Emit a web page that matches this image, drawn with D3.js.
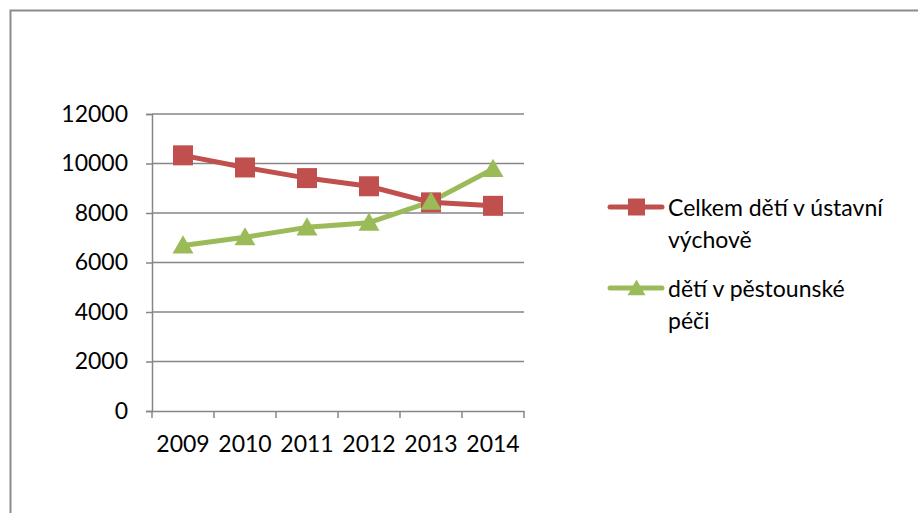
<!DOCTYPE html>
<html>
<head>
<meta charset="utf-8">
<script src="https://cdn.jsdelivr.net/npm/d3@7"></script>
<style>
body { margin:0; background:#fff; }
svg text { font-family: Lato, "Noto Sans", sans-serif; fill:#000; }
</style>
</head>
<body>
<div id="plot"></div>
<script>
// data
var years = ['2009','2010','2011','2012','2013','2014'];
var ustavni = [10330, 9840, 9410, 9080, 8430, 8290];
var pestounska = [6690, 7020, 7420, 7610, 8460, 9780];
var yTicks = [0, 2000, 4000, 6000, 8000, 10000, 12000];
var seriesNames = ['Celkem dětí v ústavní|výchově', 'dětí v pěstounské|péči'];
var seriesColors = ['#C0504D', '#9BBB59'];

var W = 918, H = 513;
var fs = '23px';
var svg = d3.select('#plot').append('svg')
	.attr('width', W)
	.attr('height', H);

svg.append('rect').attr('width', W).attr('height', H).attr('fill', '#fff');

// outer frame (runs off the right / bottom edge)
svg.append('path')
	.attr('d', 'M10.5,' + H + 'V10.5H' + W)
	.attr('fill', 'none')
	.attr('stroke', '#8c8c8c')
	.attr('stroke-width', 2);

var x = d3.scaleBand().domain(years).range([152, 524]);
var y = d3.scaleLinear().domain([0, 12000]).range([411, 114]);
var grid = '#868686';

// gridlines
svg.append('g').selectAll('line')
	.data(yTicks.filter(function(d){ return d > 0; }))
	.enter().append('line')
	.attr('x1', 152).attr('x2', 524)
	.attr('y1', function(d){ return y(d); })
	.attr('y2', function(d){ return y(d); })
	.attr('stroke', grid).attr('stroke-width', 1.5);

// y axis
var yAxis = svg.append('g')
	.attr('transform', 'translate(152,0)')
	.call(d3.axisLeft(y).tickValues(yTicks).tickSize(6).tickPadding(18).tickFormat(d3.format('d')));
yAxis.selectAll('path').attr('stroke', grid).attr('stroke-width', 1.5);
yAxis.selectAll('line').attr('stroke', grid).attr('stroke-width', 1.5);
yAxis.selectAll('text').style('font-size', fs).attr('font-family', null);

// x axis
var xAxis = svg.append('g')
	.attr('transform', 'translate(0,411)')
	.call(d3.axisBottom(x).tickSize(0).tickPadding(25));
xAxis.select('.domain').attr('stroke', grid).attr('stroke-width', 1.5);
xAxis.selectAll('text').style('font-size', fs).attr('font-family', null);
xAxis.selectAll('.tk').data(x.domain().concat(['end']))
	.enter().append('line')
	.attr('x1', function(d){ return d == 'end' ? 524 : x(d); })
	.attr('x2', function(d){ return d == 'end' ? 524 : x(d); })
	.attr('y1', 0).attr('y2', 7)
	.attr('stroke', grid).attr('stroke-width', 1.5);

var cx = function(d, i){ return x(years[i]) + x.bandwidth() / 2; };
var line = d3.line()
	.x(cx)
	.y(function(d){ return y(d); });

[ustavni, pestounska].forEach(function(vals, s){
	svg.append('path')
		.datum(vals)
		.attr('d', line)
		.attr('fill', 'none')
		.attr('stroke', seriesColors[s])
		.attr('stroke-width', 5)
		.attr('stroke-linejoin', 'round');
});

// markers
svg.append('g').selectAll('rect')
	.data(ustavni).enter().append('rect')
	.attr('x', function(d, i){ return cx(d, i) - 10; })
	.attr('y', function(d){ return y(d) - 10; })
	.attr('width', 20).attr('height', 20)
	.attr('fill', seriesColors[0]);

var tri = d3.symbol().type(d3.symbolTriangle).size(190);
svg.append('g').selectAll('path')
	.data(pestounska).enter().append('path')
	.attr('d', tri)
	.attr('transform', function(d, i){ return 'translate(' + cx(d, i) + ',' + (y(d) + 2) + ')'; })
	.attr('fill', seriesColors[1]);

// legend
var legY = [207, 288];
seriesNames.forEach(function(name, s){
	var g = svg.append('g').attr('transform', 'translate(0,' + legY[s] + ')');
	g.append('line')
		.attr('x1', 610).attr('x2', 662)
		.attr('stroke', seriesColors[s]).attr('stroke-width', 5)
		.attr('stroke-linecap', 'round');
	if (s == 0) {
		g.append('rect').attr('x', 628).attr('y', -8.5).attr('width', 17).attr('height', 17)
			.attr('fill', seriesColors[s]);
	} else {
		g.append('path').attr('d', d3.symbol().type(d3.symbolTriangle).size(140))
			.attr('transform', 'translate(636.5,2)')
			.attr('fill', seriesColors[s]);
	}
	name.split('|').forEach(function(t, k){
		g.append('text')
			.attr('x', 668).attr('y', 9 + k * 32)
			.style('font-size', fs)
			.text(t);
	});
});
</script>
</body>
</html>
